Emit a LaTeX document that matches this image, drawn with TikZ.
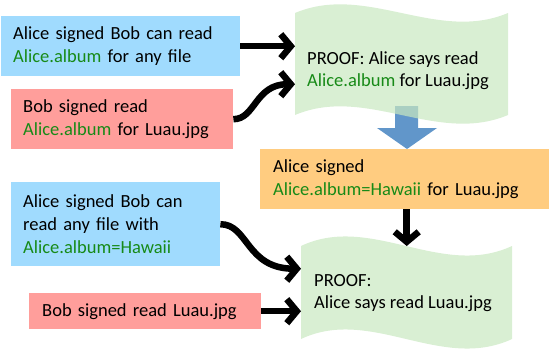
\documentclass[tikz,border=0pt]{standalone}
\usepackage{fontspec}
\setmainfont{Carlito}
\usetikzlibrary{arrows.meta}

\definecolor{signBlue}{HTML}{A0DBFE}
\definecolor{signRed}{HTML}{FF9E9B}
\definecolor{signOrange}{HTML}{FFCC80}
\definecolor{proofGreen}{RGB}{201,232,192}
\definecolor{albGreen}{HTML}{178A17}
\definecolor{stepBlue}{HTML}{6196CA}

\newcommand{\alb}[1]{\textcolor{albGreen}{#1}}

\tikzset{
	cert/.style={anchor=north west, inner xsep=12pt, inner ysep=0pt, align=left,
		font=\fontsize{18.5}{23}\selectfont},
	proofwave/.style={fill=proofGreen, fill opacity=0.7},
	prooftext/.style={anchor=west, inner sep=0pt, align=left, font=\fontsize{18.5}{22}\selectfont},
	link/.style={line width=6.5pt, -{Straight Barb[length=10pt,width=24pt]}}
}

\begin{document}
\begin{tikzpicture}[x=1pt, y=-1pt]
	\useasboundingbox (0,0) rectangle (549,356);
	
	% Signed statements
	\node[cert, fill=signBlue, text width=215pt, minimum height=60pt] (trustAll) at (1,16)
		{Alice signed Bob can read\\\alb{Alice.album} for any file};
	\node[cert, fill=signRed, text width=198pt, minimum height=60pt] (bobReq) at (11,89)
		{Bob signed read\\\alb{Alice.album} for Luau.jpg};
	\node[cert, fill=signOrange, inner xsep=13pt, text width=263pt, minimum height=60pt] (albumHawaii) at (260,149)
		{Alice signed\\\alb{Alice.album=Hawaii} for Luau.jpg};
	\node[cert, fill=signBlue, text width=185pt, minimum height=84pt] (trustHawaii) at (11,182)
		{Alice signed Bob can\\read any file with\\\alb{Alice.album=Hawaii}};
	\node[cert, fill=signRed, inner xsep=13pt, text width=206pt, minimum height=36pt] (bobRead) at (29,293)
		{Bob signed read Luau.jpg};
	
	% Step arrow from the first proof to Alice's label
	\fill[stepBlue] (395,106) -- (418,106) -- (418,128) -- (437,128) -- (407,149)
		-- (377,128) -- (395,128) -- cycle;
	
	% Proof regions
	\node[anchor=north west, inner sep=0pt, minimum width=213pt, minimum height=102pt] (proofAlbum) at (295,13) {};
	\node[anchor=north west, inner sep=0pt, minimum width=211pt, minimum height=93pt] (proofRead) at (301,246) {};
	
	% Wavy proof shapes
	\path[proofwave] (295,13) .. controls (366,-17) and (437,43) .. (508,13) -- (508,115)
		.. controls (437,145) and (366,85) .. (295,115) -- cycle;
	\path[proofwave] (301,246) .. controls (371,213) and (441,279) .. (512,246) -- (512,339)
		.. controls (441,372) and (371,306) .. (301,339) -- cycle;
	
	\node[prooftext] (proofAlbumText) at ([xshift=12pt, yshift=-6.5pt]proofAlbum.west)
		{PROOF: Alice says read\\\alb{Alice.album} for Luau.jpg};
	\node[prooftext] (proofReadText) at ([xshift=13pt]proofRead.west)
		{PROOF:\\Alice says read Luau.jpg};
	
	% Connectors
	\draw[link] (trustAll.east) -- (trustAll.east -| proofAlbum.west);
	\draw[link] (bobReq.east) .. controls +(22,0) and +(-40,0) .. ([yshift=-20pt]proofAlbum.west);
	\draw[link] (trustHawaii.east) .. controls +(28,0) and +(-55,0) .. ([yshift=24pt]proofRead.west);
	\draw[link] (bobRead.east) -- (bobRead.east -| proofRead.west);
	\draw[link] (albumHawaii.south -| proofRead.north) -- (proofRead.north);
	
\end{tikzpicture}
\end{document}
